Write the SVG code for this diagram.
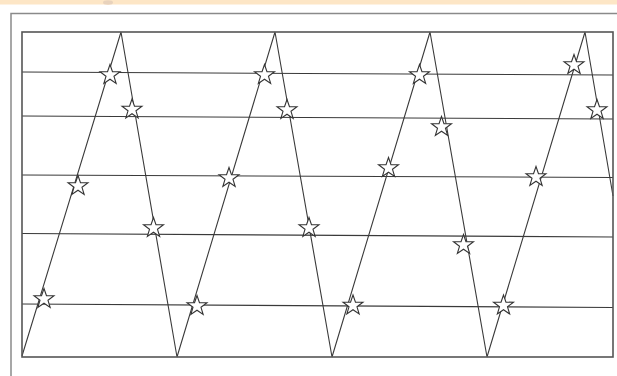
<svg xmlns="http://www.w3.org/2000/svg" width="617" height="376" viewBox="0 0 617 376">
  <style>
    .frame { fill: none; stroke: #8a8a8a; stroke-width: 1.5; }
    .inner { fill: none; stroke: #555; stroke-width: 1.6; }
    .line { fill: none; stroke: #3a3a3a; stroke-width: 1.1; }
    .star { fill: #fff; stroke: #333; stroke-width: 1.1; stroke-linejoin: miter; }
  </style>
  <defs>
    <path id="star" d="M0,-10.5 L2.47,-3.4 L9.99,-3.24 L3.99,1.3 L6.17,8.49 L0,4.2 L-6.17,8.49 L-3.99,1.3 L-9.99,-3.24 L-2.47,-3.4 Z"/>
  </defs>
  <rect width="617" height="376" fill="#fff"/>
  <rect x="0" y="0" width="617" height="4.5" fill="#fde6c6"/>
  <ellipse cx="108" cy="2.5" rx="5" ry="2.2" fill="#e8d2bc"/>
  <rect class="frame" x="11" y="13.5" width="640" height="400"/>
  <g id="connectors">
    <line class="line" x1="22" y1="72" x2="613" y2="75"/>
    <line class="line" x1="22" y1="116" x2="613" y2="119"/>
    <line class="line" x1="22" y1="175" x2="613" y2="177.5"/>
    <line class="line" x1="22" y1="233.5" x2="613" y2="237"/>
    <line class="line" x1="22" y1="304" x2="613" y2="307.5"/>
    <polyline class="line" points="22,356 121,32 177,357 275,32 332,357 430,32 487,357 585,32 613,196"/>
  </g>
  <rect id="plot" class="inner" x="22" y="32" width="591" height="325"/>
  <g id="stars">
    <use href="#star" class="star" x="110" y="75"/>
    <use href="#star" class="star" x="132" y="109.5"/>
    <use href="#star" class="star" x="78" y="186"/>
    <use href="#star" class="star" x="153.5" y="228"/>
    <use href="#star" class="star" x="44" y="299"/>
    <use href="#star" class="star" x="197" y="306"/>
    <use href="#star" class="star" x="264.5" y="75"/>
    <use href="#star" class="star" x="287" y="110"/>
    <use href="#star" class="star" x="229" y="178"/>
    <use href="#star" class="star" x="309" y="228"/>
    <use href="#star" class="star" x="353" y="305.5"/>
    <use href="#star" class="star" x="388.5" y="168"/>
    <use href="#star" class="star" x="419.5" y="75"/>
    <use href="#star" class="star" x="441.5" y="127"/>
    <use href="#star" class="star" x="463.5" y="245"/>
    <use href="#star" class="star" x="503.5" y="305.5"/>
    <use href="#star" class="star" x="574" y="65"/>
    <use href="#star" class="star" x="597" y="110"/>
    <use href="#star" class="star" x="536" y="177"/>
  </g>
</svg>
